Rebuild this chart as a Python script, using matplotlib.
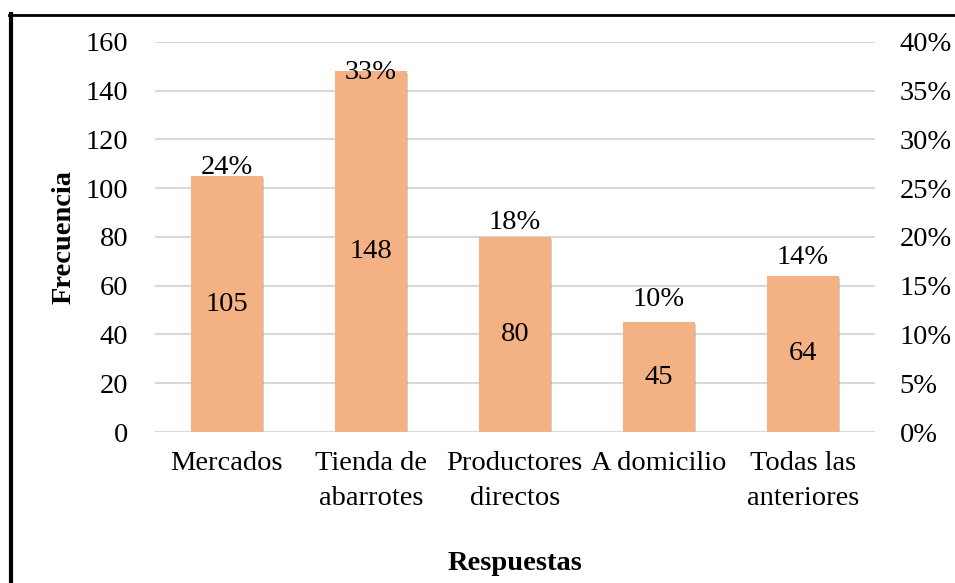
"""
Frecuencia de respuestas por lugar de compra, con porcentajes en eje secundario.
"""

import matplotlib

matplotlib.use("Agg")
import matplotlib.patheffects as pe
import matplotlib.pyplot as plt
import matplotlib.ticker as mtick
import numpy as np
from matplotlib.lines import Line2D

categories = ["Mercados", "Tienda de\nabarrotes", "Productores\ndirectos", "A domicilio", "Todas las\nanteriores"]
values = [105, 148, 80, 45, 64]
yticks = [0, 20, 40, 60, 80, 100, 120, 140, 160]
pct_ticks = [0.0, 0.05, 0.10, 0.15, 0.20, 0.25, 0.30, 0.35, 0.40]

BAR_COLOR = "#F4B183"
GRID_COLOR = "#D9D9D9"
FS = 20.5


def main():
    plt.rcParams["font.family"] = ["Liberation Serif", "DejaVu Serif"]

    x = np.arange(len(categories))
    pct = np.array(values) / sum(values)

    fig = plt.figure(figsize=(9.55, 5.83), dpi=100)
    ax = fig.add_axes([0.162, 0.259, 0.754, 0.669])
    ax2 = ax.twinx()

    # Primary: frequency bars ##########################################################
    bars = ax.bar(x, values, width=0.5, color=BAR_COLOR, zorder=3)
    for b in bars:
        b.set_path_effects(
            [pe.SimplePatchShadow(offset=(1.2, -1.2), shadow_rgbFace="#808080", alpha=0.35), pe.Normal()]
        )

    for xi, v in zip(x, values):
        ax.text(xi, v / 2, str(v), ha="center", va="center", fontsize=FS, zorder=5)

    ax.set_xlim(-0.5, len(categories) - 0.5)
    ax.set_ylim(0, 160)
    ax.set_yticks(yticks)
    ax.set_xticks(x)
    ax.set_xticklabels(categories, fontsize=FS, linespacing=1.5)
    ax.tick_params(axis="y", length=0, pad=19, labelsize=FS)
    ax.tick_params(axis="x", length=0, pad=14)
    ax.grid(axis="y", color=GRID_COLOR, lw=1.5, zorder=0)
    ax.set_axisbelow(True)

    ax.set_ylabel("Frecuencia", fontsize=FS, fontweight="bold")
    ax.yaxis.set_label_coords(-0.108, 0.5)
    ax.set_xlabel("Respuestas", fontsize=FS, fontweight="bold")
    ax.xaxis.set_label_coords(0.5, -0.305)

    # Secondary: percentages ##########################################################
    ax2.set_ylim(0, 0.4)
    ax2.set_yticks(pct_ticks)
    ax2.yaxis.set_major_formatter(mtick.PercentFormatter(1.0, 0))
    ax2.tick_params(axis="y", length=0, pad=18, labelsize=FS)
    ax2.plot(x, pct, ls="none", marker="none")
    for xi, p in zip(x, pct):
        ax2.annotate(
            f"{p * 100:.0f}%",
            (xi, p),
            xytext=(0, 24),
            textcoords="offset points",
            ha="center",
            va="center",
            fontsize=FS,
        )

    for a in (ax, ax2):
        for s in a.spines.values():
            s.set_visible(False)

    # Frame (only left and top edges fall inside the picture)
    fig.add_artist(Line2D([10.5 / 955, 10.5 / 955], [0, 1 - 13.5 / 583], color="black", lw=3))
    fig.add_artist(Line2D([9 / 955, 1], [1 - 14.5 / 583, 1 - 14.5 / 583], color="black", lw=2))

    fig.savefig("out.png", dpi=100)


if __name__ == "__main__":
    main()
